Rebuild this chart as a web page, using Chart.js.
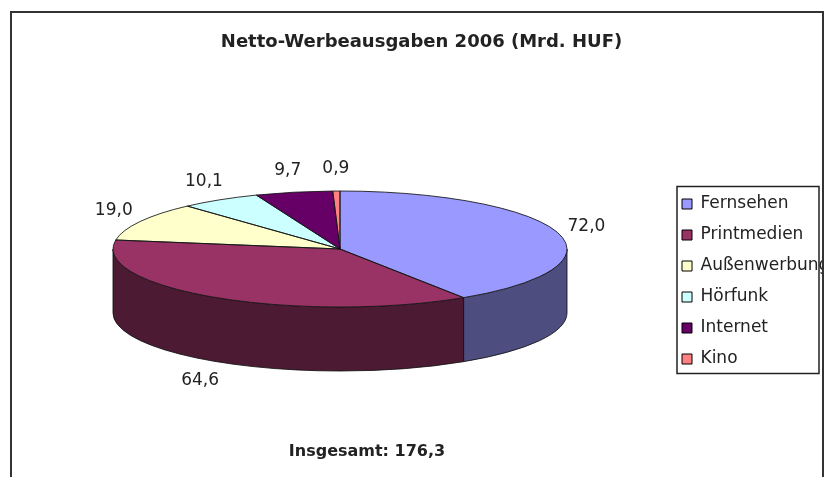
<!DOCTYPE html>
<html>
<head>
<meta charset="utf-8">
<script src="https://cdn.jsdelivr.net/npm/chart.js@4/dist/chart.umd.min.js"></script>
<style>
html,body{margin:0;padding:0;background:#fff;}
#wrap{width:831px;height:477px;position:relative;overflow:hidden;}
canvas{display:block;}
</style>
</head>
<body>
<div id="wrap"><canvas id="c" width="831" height="477"></canvas></div>
<script>
// ---- data ----
const categories = ['Fernsehen', 'Printmedien', 'Außenwerbung', 'Hörfunk', 'Internet', 'Kino'];
const values = [72.0, 64.6, 19.0, 10.1, 9.7, 0.9];
const valueLabels = ['72,0', '64,6', '19,0', '10,1', '9,7', '0,9'];
const titleText = 'Netto-Werbeausgaben 2006 (Mrd. HUF)';
const totalText = 'Insgesamt: 176,3';

// ---- styles ----
const colors = ['#9999FF', '#993366', '#FFFFCC', '#CCFFFF', '#660066', '#FF8080'];
const SQUASH = 58 / 227;   // vertical tilt of the pie (3D look)
const DEPTH = 64;          // thickness of the pie wall
const EDGE = 'rgba(20,20,20,0.85)';
const TEXT = '#222';
const FONT = "'DejaVu Sans', sans-serif";

function shade(hex, f) {
  const n = parseInt(hex.slice(1), 16);
  const r = Math.round(((n >> 16) & 255) * f);
  const g = Math.round(((n >> 8) & 255) * f);
  const b = Math.round((n & 255) * f);
  return `rgb(${r},${g},${b})`;
}

function geom(chart) {
  const arcs = chart.getDatasetMeta(0).data;
  const p = arcs[0].getProps(['x', 'y', 'outerRadius'], true);
  return { arcs, cx: p.x, cy: p.y, rx: p.outerRadius, ry: p.outerRadius * SQUASH };
}

const pie3d = {
  id: 'pie3d',
  beforeDatasetsDraw(chart) {
    const ctx = chart.ctx;
    const { arcs, cx, cy, rx, ry } = geom(chart);
    ctx.save();
    arcs.forEach((arc, i) => {
      const { startAngle, endAngle } = arc.getProps(['startAngle', 'endAngle'], true);
      const a1 = Math.max(startAngle, 0);
      const a2 = Math.min(endAngle, Math.PI);
      if (a2 <= a1) return;
      ctx.beginPath();
      ctx.ellipse(cx, cy, rx, ry, 0, a1, a2, false);
      ctx.lineTo(cx + rx * Math.cos(a2), cy + DEPTH + ry * Math.sin(a2));
      ctx.ellipse(cx, cy + DEPTH, rx, ry, 0, a2, a1, true);
      ctx.closePath();
      ctx.fillStyle = shade(colors[i], 0.5);
      ctx.fill();
      ctx.strokeStyle = EDGE;
      ctx.lineWidth = 1;
      ctx.stroke();
    });
    ctx.restore();
    // tilt the top face: the library's arcs are drawn squashed vertically
    ctx.save();
    ctx.translate(0, cy);
    ctx.scale(1, SQUASH);
    ctx.translate(0, -cy);
  },
  afterDatasetsDraw(chart) {
    const ctx = chart.ctx;
    ctx.restore();
    const { arcs, cx, cy, rx, ry } = geom(chart);
    ctx.save();
    ctx.strokeStyle = EDGE;
    ctx.lineWidth = 1;
    arcs.forEach((arc) => {
      const { startAngle, endAngle } = arc.getProps(['startAngle', 'endAngle'], true);
      ctx.beginPath();
      ctx.moveTo(cx, cy);
      ctx.lineTo(cx + rx * Math.cos(startAngle), cy + ry * Math.sin(startAngle));
      ctx.ellipse(cx, cy, rx, ry, 0, startAngle, endAngle, false);
      ctx.closePath();
      ctx.stroke();
    });
    // value labels
    ctx.fillStyle = TEXT;
    ctx.font = `17px ${FONT}`;
    ctx.textAlign = 'center';
    ctx.textBaseline = 'middle';
    arcs.forEach((arc, i) => {
      const { startAngle, endAngle } = arc.getProps(['startAngle', 'endAngle'], true);
      const m = (startAngle + endAngle) / 2;
      const s = Math.sin(m);
      const lx = cx + (rx + 30) * Math.cos(m);
      const ly = cy + (ry + 22) * s + (s > 0 ? DEPTH : 0);
      ctx.fillText(valueLabels[i], lx, ly);
    });
    ctx.restore();
  },
  afterDraw(chart) {
    const ctx = chart.ctx;
    const lg = chart.legend;
    ctx.save();
    // legend frame
    const hb = lg.legendHitBoxes;
    const first = hb[0], last = hb[hb.length - 1];
    ctx.strokeStyle = '#222';
    ctx.lineWidth = 1.5;
    ctx.strokeRect(first.left - 5, first.top - 9, 142, (last.top + last.height) - (first.top - 9) + 6);
    // chart object border (clips what lies beyond it)
    ctx.fillStyle = '#fff';
    ctx.fillRect(824, 0, 20, 477);
    ctx.strokeStyle = '#333';
    ctx.lineWidth = 2;
    ctx.beginPath();
    ctx.moveTo(11, 480);
    ctx.lineTo(11, 12);
    ctx.lineTo(823, 12);
    ctx.lineTo(823, 480);
    ctx.stroke();
    // total
    ctx.fillStyle = TEXT;
    ctx.font = `bold 16px ${FONT}`;
    ctx.textAlign = 'center';
    ctx.textBaseline = 'middle';
    ctx.fillText(totalText, 367, 452);
    ctx.restore();
  }
};

const baseLabels = Chart.overrides.pie.plugins.legend.labels.generateLabels;

new Chart(document.getElementById('c'), {
  type: 'pie',
  data: {
    labels: categories,
    datasets: [{
      data: values,
      backgroundColor: colors,
      borderWidth: 0,
      radius: 227,
      clip: false
    }]
  },
  options: {
    responsive: false,
    animation: false,
    devicePixelRatio: 1,
    events: [],
    layout: { padding: { left: 12, right: 0, top: 0, bottom: 42.6 } },
    plugins: {
      tooltip: { enabled: false },
      title: {
        display: true,
        text: titleText,
        color: TEXT,
        font: { family: FONT, size: 18, weight: 'bold', lineHeight: 1.2 },
        padding: { top: 32, bottom: 10 }
      },
      legend: {
        position: 'right',
        fullSize: false,
        maxWidth: 163,
        title: { display: true, text: '', font: { size: 12, lineHeight: 1.2 }, padding: { top: 50.6, bottom: 0 } },
        labels: {
          boxWidth: 10,
          boxHeight: 10,
          padding: 14,
          color: TEXT,
          font: { family: FONT, size: 17 },
          generateLabels(chart) {
            return baseLabels(chart).map(l => Object.assign(l, { strokeStyle: '#000', lineWidth: 1 }));
          }
        }
      }
    }
  },
  plugins: [pie3d]
});
</script>
</body>
</html>
